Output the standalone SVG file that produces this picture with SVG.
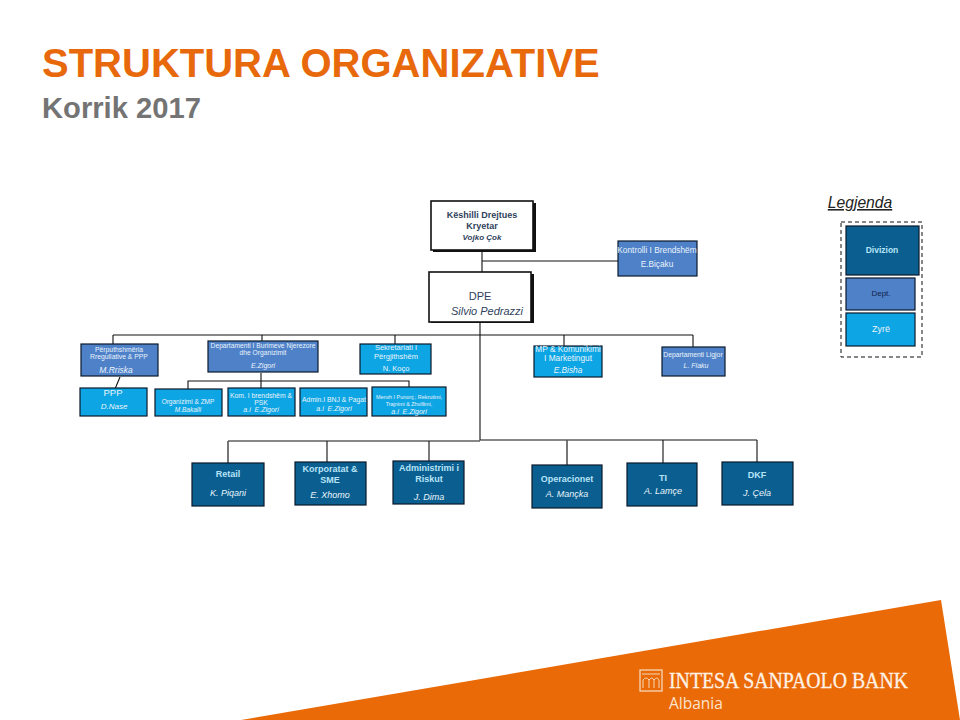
<svg xmlns="http://www.w3.org/2000/svg" width="960" height="720" viewBox="0 0 960 720">
<style>
text{font-family:"Liberation Sans",Arial,sans-serif;text-anchor:middle}
.div{fill:#0a5f90;stroke:#0a1a2a;stroke-width:1.2}
.dep{fill:#4f81c9;stroke:#0a1a2a;stroke-width:1.2}
.zy{fill:#0ea5e4;stroke:#0a1a2a;stroke-width:1.2}
.top{fill:#fff;stroke:#111;stroke-width:1.6}
.sh{fill:#111}
.w{fill:#eaf4fb}
.c{fill:#b8e4f8}
.b{font-weight:bold}
.i{font-style:italic}
.navy{fill:#2f3f5c}
#conn path{fill:none;stroke:#111;stroke-width:1.1}
#conn path.g{stroke:#555;stroke-width:1.6}
</style>
<rect width="960" height="720" fill="#fff"/>
<text x="42" y="77" style="text-anchor:start" font-size="40" font-weight="bold" fill="#e8690b">STRUKTURA ORGANIZATIVE</text>
<text x="42" y="118" style="text-anchor:start" font-size="29" font-weight="bold" fill="#747474" textLength="159" lengthAdjust="spacingAndGlyphs">Korrik 2017</text>
<g id="conn">
<path d="M482 251V272M482 261H618"/>
<path d="M480 322V440H567M113 335H693M113 335V344M262 335V341M395 335V344M564 335V346M693 335V348"/>
<path d="M261 373V381M188 390V381H409V387M261 381V388M120 377L115 389"/>
<path d="M228 441H480M327 441V462M429 441V461M567 440H757M663 440V463M757 440V462"/>
<path class="g" d="M228 441V463M567 440V465"/>
</g>
<g id="n-keshilli"><rect class="sh" x="433" y="203" width="103" height="49"/><rect class="top" x="431" y="201" width="102" height="49"/>
<text x="482" y="218" font-size="9" class="b navy">Këshilli Drejtues</text><text x="482" y="229" font-size="9" class="b navy">Kryetar</text><text x="482" y="240" font-size="8" class="b i navy">Vojko Çok</text></g>
<g id="n-kontrolli"><rect class="dep" x="618" y="241" width="79" height="35"/>
<text x="657" y="253" font-size="8.3" class="w">Kontrolli I Brendshëm</text><text x="657" y="267" font-size="8.3" class="w">E.Biçaku</text></g>
<g id="n-dpe"><rect class="sh" x="431" y="274" width="103" height="49"/><rect class="top" x="429" y="272" width="102" height="50"/>
<text x="480" y="300" font-size="11" class="navy">DPE</text><text x="487" y="315" font-size="11" class="i navy">Silvio Pedrazzi</text></g>
<g id="n-perputhshmeria"><rect class="dep" x="81" y="344" width="77" height="32"/>
<text x="119" y="352" font-size="6.8" class="w">Përputhshmëria</text><text x="119" y="359" font-size="6.8" class="w">Rregullative &amp; PPP</text><text x="116" y="373" font-size="8.5" class="i w">M.Rriska</text></g>
<g id="n-burimeve"><rect class="dep" x="208" y="341" width="110" height="31"/>
<text x="263" y="348" font-size="6.7" class="w">Departamenti I Burimeve Njerezore</text><text x="263" y="355" font-size="6.7" class="w">dhe Organizimit</text><text x="263" y="368" font-size="7" class="i w">E.Zigori</text></g>
<g id="n-sekretariati"><rect class="zy" x="360" y="344" width="71" height="30"/>
<text x="396" y="350" font-size="7.5" class="w">Sekretariati I</text><text x="396" y="359" font-size="7.5" class="w">Përgjithshëm</text><text x="396" y="371" font-size="7.5" class="w">N. Koço</text></g>
<g id="n-mp"><rect class="zy" x="534" y="346" width="68" height="31"/>
<text x="568" y="352" font-size="8.3" class="w">MP &amp; Komunikimi</text><text x="568" y="361" font-size="8.3" class="w">I Marketingut</text><text x="568" y="373" font-size="8.3" class="i w">E.Bisha</text></g>
<g id="n-ligjor"><rect class="dep" x="662" y="347" width="63" height="29"/>
<text x="693" y="357" font-size="6.8" class="w">Departamenti Ligjor</text><text x="696" y="368" font-size="7" class="i w">L. Flaku</text></g>
<g id="n-ppp"><rect class="zy" x="80" y="388" width="67" height="28"/>
<text x="113" y="396" font-size="9.5" class="w">PPP</text><text x="114" y="409" font-size="8" class="i w">D.Nase</text></g>
<g id="n-org"><rect class="zy" x="155" y="389" width="67" height="27"/>
<text x="188" y="404" font-size="6.5" class="w">Organizimi &amp; ZMP</text><text x="188" y="412" font-size="6.5" class="i w">M.Bakalli</text></g>
<g id="n-kom"><rect class="zy" x="228" y="388" width="67" height="28"/>
<text x="261" y="398" font-size="6.8" class="w">Kom. I brendshëm &amp;</text><text x="261" y="405" font-size="6.8" class="w">PSK</text><text x="261" y="412" font-size="7" class="i w">a.i&#160; E.Zigori</text></g>
<g id="n-admin"><rect class="zy" x="300" y="388" width="67" height="28"/>
<text x="334" y="402" font-size="6.8" class="w">Admin.I BNJ &amp; Pagat</text><text x="334" y="411" font-size="7" class="i w">a.i&#160; E.Zigori</text></g>
<g id="n-menaxh"><rect class="zy" x="372" y="387" width="74" height="29"/>
<text x="409" y="399" font-size="5.4" class="w">Menxh I Punonj.; Rekrutimi,</text><text x="409" y="406" font-size="5.4" class="w">Trajnimi &amp; Zhvillimi,</text><text x="409" y="414" font-size="7" class="i w">a.i&#160; E.Zigori</text></g>
<g id="n-retail"><rect class="div" x="192" y="463" width="72" height="43"/>
<text x="228" y="477" font-size="9" class="b c">Retail</text><text x="228" y="496" font-size="9" class="i w">K. Piqani</text></g>
<g id="n-korporatat"><rect class="div" x="295" y="462" width="71" height="43"/>
<text x="330" y="472" font-size="9" class="b c">Korporatat &amp;</text><text x="330" y="483" font-size="9" class="b c">SME</text><text x="330" y="498" font-size="9" class="i w">E. Xhomo</text></g>
<g id="n-administrimi"><rect class="div" x="393" y="461" width="71" height="43"/>
<text x="429" y="471" font-size="9" class="b c">Administrimi i</text><text x="429" y="482" font-size="9" class="b c">Riskut</text><text x="429" y="500" font-size="9" class="i w">J. Dima</text></g>
<g id="n-operacionet"><rect class="div" x="532" y="465" width="70" height="43"/>
<text x="567" y="482" font-size="9" class="b c">Operacionet</text><text x="567" y="497" font-size="9" class="i w">A. Mançka</text></g>
<g id="n-ti"><rect class="div" x="627" y="463" width="70" height="43"/>
<text x="663" y="481" font-size="9" class="b c">TI</text><text x="663" y="494" font-size="9" class="i w">A. Lamçe</text></g>
<g id="n-dkf"><rect class="div" x="722" y="462" width="71" height="43"/>
<text x="757" y="478" font-size="9" class="b c">DKF</text><text x="757" y="496" font-size="9" class="i w">J. Çela</text></g>
<g id="legend">
<text x="860" y="208" font-size="15.7" class="i" fill="#222" text-decoration="underline">Legjenda</text>
<rect x="841" y="222" width="81" height="135" fill="none" stroke="#111" stroke-dasharray="4 3"/>
<rect class="div" x="846" y="226" width="73" height="49"/><text x="882" y="253" font-size="8.5" class="b c">Divizion</text>
<rect class="dep" x="846" y="278" width="69" height="32"/><text x="881" y="296" font-size="8" fill="#12234a">Dept.</text>
<rect class="zy" x="846" y="313" width="69" height="33"/><text x="881" y="332" font-size="9" class="w">Zyrë</text>
</g>
<polygon points="241,720 941,600 960,720" fill="#ea6a07"/>
<g id="logo">
<rect x="640" y="670" width="22" height="21" fill="none" stroke="#f6d6b8" stroke-width="1.3"/>
<path d="M642 674H660M643 688V680Q646 676 649 680V688M649 680Q652 676 654 680V688M654 680Q657 676 659 680V688" fill="none" stroke="#f6d6b8"/>
<text x="669" y="688" style="text-anchor:start;font-family:'Liberation Serif',serif" font-size="23" textLength="239" lengthAdjust="spacingAndGlyphs" stroke="#fff2e6" stroke-width="0.3" fill="#fff2e6">INTESA SANPAOLO BANK</text>
<text x="669" y="709" style="text-anchor:start;font-family:'Open Sans',sans-serif" font-size="15.5" fill="#fbe3cd">Albania</text>
</g>
</svg>
